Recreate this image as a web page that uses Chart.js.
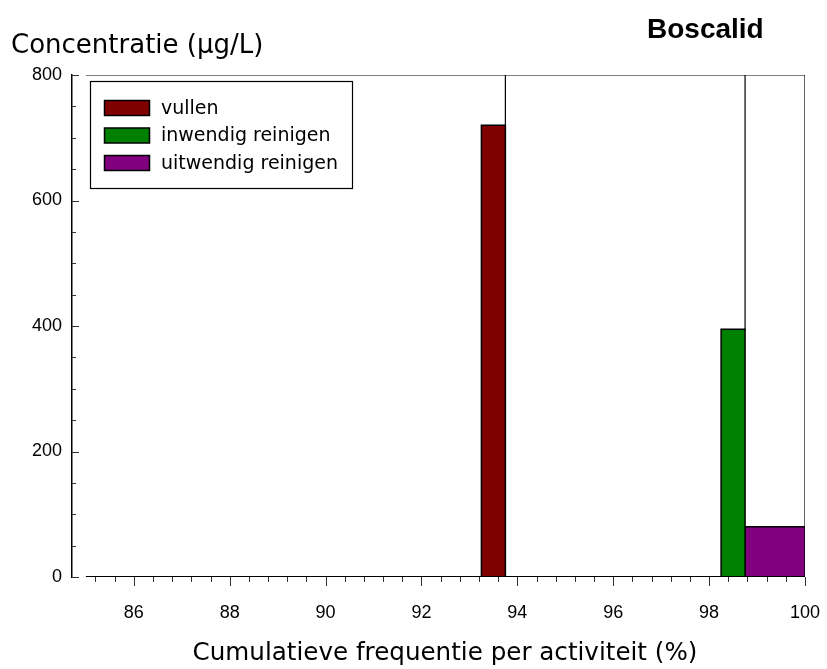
<!DOCTYPE html>
<html>
<head>
<meta charset="utf-8">
<script src="https://cdn.jsdelivr.net/npm/chart.js@4/dist/chart.umd.min.js"></script>
<style>
  html, body { margin: 0; padding: 0; background: #fff; }
  #wrap { width: 827px; height: 669px; }
</style>
</head>
<body>
<div id="wrap"><canvas id="c" width="827" height="669"></canvas></div>
<script>
// --- data ---
const activiteiten = ["vullen", "inwendig reinigen", "uitwendig reinigen"];
const freqVan = [93.25, 98.25, 98.75];   // cumulatieve frequentie begin (%)
const freqTot = [93.75, 98.75, 100];     // cumulatieve frequentie eind (%)
const concentratie = [720, 395, 80];     // µg/L
const kleuren = ["#800000", "#008000", "#800080"];

const xTicks = [86, 88, 90, 92, 94, 96, 98, 100];
const yTicks = [0, 200, 400, 600, 800];
const xStart = 85, xEind = 100, yMax = 800;

const lettertype = "'DejaVu Sans', Verdana, sans-serif";
const cijferFont = "'Liberation Sans', Arial, sans-serif";

// staven als gesloten vlakken
const staafSets = activiteiten.map((naam, i) => ({
  label: naam,
  data: [
    { x: freqVan[i], y: 0 },
    { x: freqVan[i], y: concentratie[i] },
    { x: freqTot[i], y: concentratie[i] },
    { x: freqTot[i], y: 0 },
  ],
  showLine: true,
  fill: "origin",
  backgroundColor: kleuren[i],
  borderColor: "#000",
  borderWidth: 1.5,
  pointRadius: 0,
  tension: 0,
}));

// scheidingslijnen boven de staven tot de bovenrand
const scheidingsPunten = [];
activiteiten.forEach((_, i) => {
  scheidingsPunten.push({ x: freqTot[i], y: concentratie[i] });
  scheidingsPunten.push({ x: freqTot[i], y: yMax });
  scheidingsPunten.push({ x: freqTot[i], y: null });
});

const kaderSets = [
  {
    label: "_basis",
    data: [{ x: xStart, y: 0 }, { x: xEind, y: 0 }],
    showLine: true, borderColor: "#000", borderWidth: 2, pointRadius: 0, fill: false,
  },
  {
    label: "_boven",
    data: [{ x: xStart, y: yMax }, { x: xEind, y: yMax }],
    showLine: true, borderColor: "#000", borderWidth: 1.2, pointRadius: 0, fill: false,
  },
  {
    label: "_scheiding",
    data: scheidingsPunten,
    showLine: true, spanGaps: false, borderColor: "#000", borderWidth: 1.2, pointRadius: 0, fill: false,
  },
];

const decor = {
  id: "decor",
  afterDraw(chart) {
    const ctx = chart.ctx;
    const xs = chart.scales.x, ys = chart.scales.y;
    const area = chart.chartArea;
    ctx.save();

    // tick marks x (naar beneden)
    ctx.strokeStyle = "#333";
    ctx.lineWidth = 1;
    for (let k = 0; k <= 37; k++) {
      const v = 85.2 + k * 0.4;
      if (v > xEind + 0.01) break;
      const px = Math.round(xs.getPixelForValue(v)) + 0.5;
      const major = Math.abs(v / 2 - Math.round(v / 2)) < 0.01;
      ctx.beginPath();
      ctx.moveTo(px, area.bottom);
      ctx.lineTo(px, area.bottom + (major ? 9 : 5));
      ctx.stroke();
    }
    // tick marks y (naar binnen)
    for (let v = 0; v <= yMax; v += 50) {
      const py = Math.round(ys.getPixelForValue(v)) + 0.5;
      const major = v % 200 === 0;
      ctx.beginPath();
      ctx.moveTo(area.left, py);
      ctx.lineTo(area.left + (major ? 7 : 4), py);
      ctx.stroke();
    }

    // titels
    ctx.fillStyle = "#000";
    ctx.textBaseline = "alphabetic";
    ctx.font = "bold 28px 'Liberation Sans', Arial, sans-serif";
    ctx.textAlign = "left";
    ctx.fillText("Boscalid", 647, 38);
    ctx.font = "26px " + lettertype;
    ctx.fillText("Concentratie (\u00b5g/L)", 11, 53);
    ctx.font = "24.6px " + lettertype;
    ctx.textAlign = "center";
    ctx.fillText("Cumulatieve frequentie per activiteit (%)", 445, 660);

    // legenda
    ctx.fillStyle = "#fff";
    ctx.fillRect(90.5, 81.5, 262, 107);
    ctx.strokeStyle = "#000";
    ctx.lineWidth = 1.2;
    ctx.strokeRect(90.5, 81.5, 262, 107);
    ctx.font = "19px " + lettertype;
    ctx.textAlign = "left";
    ctx.textBaseline = "middle";
    activiteiten.forEach((naam, i) => {
      const y = 108 + i * 27.5;
      ctx.fillStyle = kleuren[i];
      ctx.fillRect(104.5, y - 7.5, 45, 15);
      ctx.strokeStyle = "#000";
      ctx.lineWidth = 1.5;
      ctx.strokeRect(104.5, y - 7.5, 45, 15);
      ctx.fillStyle = "#000";
      ctx.fillText(naam, 161, y + 1);
    });
    ctx.restore();
  },
};

new Chart(document.getElementById("c"), {
  type: "scatter",
  data: { datasets: [...kaderSets, ...staafSets] },
  options: {
    responsive: false,
    animation: false,
    devicePixelRatio: 1,
    layout: { padding: { top: 75, right: 22, left: 0, bottom: 0 } },
    plugins: {
      legend: { display: false },
      tooltip: { enabled: false },
      title: { display: false },
    },
    scales: {
      x: {
        type: "linear",
        min: 84.71,
        max: xEind,
        grid: { display: false, drawTicks: false },
        border: { display: false },
        afterBuildTicks: (s) => { s.ticks = xTicks.map((v) => ({ value: v })); },
        afterFit: (s) => { s.height = 92; s.paddingLeft = 0; s.paddingRight = 0; },
        ticks: {
          autoSkip: false,
          maxRotation: 0,
          padding: 25,
          color: "#000",
          font: { family: cijferFont, size: 18 },
          callback: (v) => String(v),
        },
      },
      y: {
        type: "linear",
        min: 0,
        max: yMax,
        grid: { display: false, drawTicks: false },
        border: { display: true, color: "#000", width: 1.5 },
        afterBuildTicks: (s) => { s.ticks = yTicks.map((v) => ({ value: v })); },
        afterFit: (s) => { s.width = 72; s.paddingTop = 0; s.paddingBottom = 0; },
        ticks: {
          autoSkip: false,
          padding: 10,
          color: "#000",
          font: { family: cijferFont, size: 18 },
          callback: (v) => String(v),
        },
      },
    },
  },
  plugins: [decor],
});
</script>
</body>
</html>
